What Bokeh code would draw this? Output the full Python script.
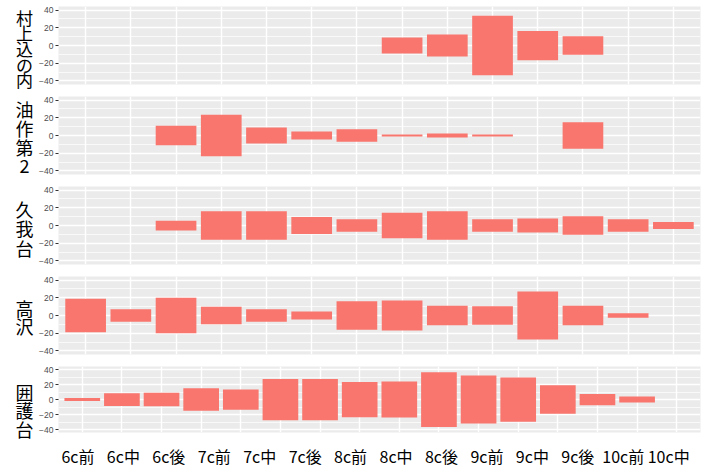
from bokeh.plotting import figure
from bokeh.models import ColumnDataSource, FactorRange, Range1d, FixedTicker, LinearAxis
from bokeh.core.properties import value
from bokeh.layouts import column, row
from bokeh.embed import file_html
from bokeh.resources import INLINE

# ---- data -------------------------------------------------------------
periods = ["6c前", "6c中", "6c後", "7c前", "7c中", "7c後", "8c前", "8c中",
           "8c後", "9c前", "9c中", "9c後", "10c前", "10c中"]
sites = ["村上込の内", "油作第2", "久我台", "高沢", "囲護台"]

murakami = [None, None, None, None, None, None, None, 9, 12.5, 33.5, 16.5, 10.5, None, None]
yusaku = [None, None, 11, 23.5, 9, 4.5, 7, 1.2, 2.2, 1, None, 15, None, None]
kugadai = [None, None, 5.5, 16, 16, 9.5, 7, 14.5, 16, 7, 8, 10.5, 7, 4]
takasawa = [19, 7, 20, 10, 7, 4.5, 16, 17, 11, 10.5, 27, 11, 2.5, None]

# the bottom panel has its own 16-slot scale (last slot empty)
igodai = [2, 8.5, 9, 15, 13.5, 27.5, 27.5, 23.5, 24, 36.5, 32, 29.5, 19, 7.5, 4, None]

y_ticks = [-40, -20, 0, 20, 40]
y_minor = [-30, -10, 10, 30]

# ---- styling ----------------------------------------------------------
BAR = "#F8766D"
PANEL_BG = "#EBEBEB"
FONT_CJK = "Noto Sans CJK JP"
STRIP_W = 36
PANEL_W = 707 - STRIP_W
TOTAL_H = 470

# strip label layout (centre in page pixels from top, character pitch, font size)
strip_layout = [(48, 15.7, "17px"), (136.8, 19, "18px"), (227.5, 19.5, "18px"),
                (316.7, 18.3, "18px"), (409.5, 18.5, "18px")]


def make_strip():
    s = figure(width=STRIP_W, height=TOTAL_H, output_backend="svg", toolbar_location=None,
               x_range=Range1d(0, STRIP_W), y_range=Range1d(TOTAL_H - 26, 6),
               x_axis_location=None, y_axis_location=None,
               min_border_left=0, min_border_right=0, min_border_top=6, min_border_bottom=26)
    s.grid.visible = False
    s.outline_line_color = None
    s.background_fill_color = "white"
    s.border_fill_color = "white"
    for label, (yc, pitch, size) in zip(sites, strip_layout):
        chars = list(label)
        n = len(chars)
        ys = [yc + (i - (n - 1) / 2) * pitch for i in range(n)]
        s.text(x=[24] * n, y=ys, text=chars, text_align="center",
               text_baseline="middle", text_font=value(FONT_CJK), text_font_size=size,
               text_color="black")
    return s


def style_panel(p):
    p.background_fill_color = PANEL_BG
    p.border_fill_color = "white"
    p.outline_line_color = None

    p.yaxis.ticker = FixedTicker(ticks=y_ticks, minor_ticks=y_minor)
    p.yaxis.axis_line_color = None
    p.yaxis.major_tick_in = 0
    p.yaxis.major_tick_out = 3
    p.yaxis.minor_tick_out = 0
    p.yaxis.minor_tick_in = 0
    p.yaxis.major_tick_line_color = "#333333"
    p.yaxis.major_label_text_font_size = "8.5px"
    p.yaxis.major_label_text_color = "#4D4D4D"
    p.yaxis.major_label_text_font = "Liberation Sans"
    p.yaxis.major_label_standoff = 2

    p.ygrid.grid_line_color = "white"
    p.ygrid.grid_line_width = 1.4
    p.ygrid.minor_grid_line_color = "white"
    p.ygrid.minor_grid_line_width = 0.7
    p.xgrid.grid_line_color = "white"
    p.xgrid.grid_line_width = 1.4


def make_panel(vals):
    p = figure(width=PANEL_W, height=90, output_backend="svg", toolbar_location=None,
               x_range=FactorRange(factors=periods, range_padding=0.1,
                                   range_padding_units="absolute"),
               y_range=Range1d(-44, 44), x_axis_location=None, y_axis_location="left",
               min_border_left=56 - STRIP_W, min_border_right=7, min_border_top=6,
               min_border_bottom=6)
    xs = [c for c, v in zip(periods, vals) if v is not None]
    tops = [v for v in vals if v is not None]
    src = ColumnDataSource(dict(x=xs, top=tops, bottom=[-t for t in tops]))
    p.vbar(x="x", top="top", bottom="bottom", width=0.9, source=src,
           fill_color=BAR, line_color=None)
    style_panel(p)
    return p


panels = [make_panel(v) for v in [murakami, yusaku, kugadai, takasawa]]

# bottom panel: 16 slots on a numeric scale
slots = list(range(len(igodai)))
pb = figure(width=PANEL_W, height=110, output_backend="svg", toolbar_location=None,
            x_range=Range1d(-0.6, len(igodai) - 0.4), y_range=Range1d(-44, 44),
            x_axis_location=None, y_axis_location="left",
            min_border_left=56 - STRIP_W, min_border_right=7, min_border_top=6,
            min_border_bottom=26)
bx = [s for s, v in zip(slots, igodai) if v is not None]
bt = [v for v in igodai if v is not None]
pb.vbar(x=bx, top=bt, bottom=[-t for t in bt], width=0.9, fill_color=BAR, line_color=None)
style_panel(pb)
pb.xgrid.ticker = FixedTicker(ticks=slots)

pb.extra_x_ranges = {"lab": Range1d(-0.428, 13.70)}
lab_axis = LinearAxis(x_range_name="lab",
                      ticker=FixedTicker(ticks=list(range(len(periods)))),
                      major_label_overrides={i: name for i, name in enumerate(periods)})
lab_axis.axis_line_color = None
lab_axis.major_tick_line_color = None
lab_axis.minor_tick_line_color = None
lab_axis.major_label_text_font = FONT_CJK
lab_axis.major_label_text_font_size = "16px"
lab_axis.major_label_text_color = "black"
lab_axis.major_label_standoff = 5
pb.add_layout(lab_axis, "below")
panels.append(pb)

layout = row(make_strip(), column(*panels, spacing=0), spacing=0)
open("out.html", "w").write(file_html(layout, INLINE))
